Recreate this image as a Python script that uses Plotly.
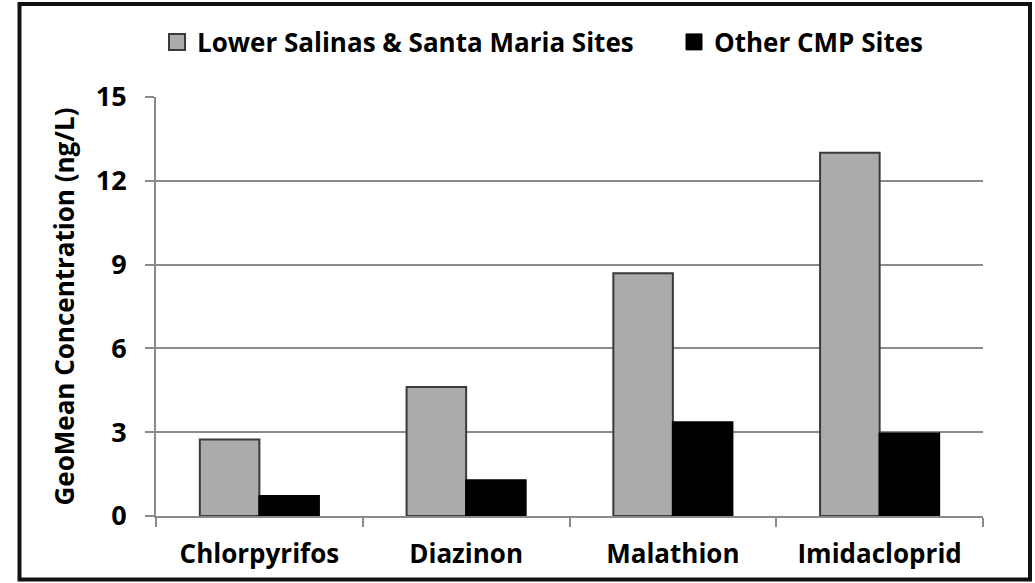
import plotly.graph_objects as go

categories = ["Chlorpyrifos", "Diazinon", "Malathion", "Imidacloprid"]
lower_salinas_santa_maria = [2.74, 4.62, 8.69, 13.0]
other_cmp_sites = [0.72, 1.28, 3.36, 2.95]
series_names = ["Lower Salinas & Santa Maria Sites", "Other CMP Sites"]
y_ticks = [0, 3, 6, 9, 12, 15]

FONT = "Open Sans"
W, H = 1035, 583
ML, MR, MT, MB = 156, 52, 97, 67
PW, PH = W - ML - MR, H - MT - MB

GRAY_FILL, GRAY_EDGE = "#ababab", "#3a3a3a"
BLACK = "#000000"

fig = go.Figure()
fig.add_trace(go.Bar(
    x=categories, y=lower_salinas_santa_maria, name=series_names[0], showlegend=False,
    marker=dict(color=GRAY_FILL, line=dict(color=GRAY_EDGE, width=2)),
))
fig.add_trace(go.Bar(
    x=categories, y=other_cmp_sites, name=series_names[1], showlegend=False,
    marker=dict(color=BLACK, line=dict(color=BLACK, width=2)),
))
# legend entries with larger square swatches
fig.add_trace(go.Scatter(
    x=[None], y=[None], mode="markers", name=series_names[0], legend="legend",
    marker=dict(symbol="square", size=19, color=GRAY_FILL, line=dict(color=GRAY_EDGE, width=2)),
))
fig.add_trace(go.Scatter(
    x=[None], y=[None], mode="markers", name=series_names[1], legend="legend2",
    marker=dict(symbol="square", size=19, color=BLACK, line=dict(color=BLACK, width=1)),
))

def px_x(x):
    return (x - ML) / PW

def px_y(y):
    return (H - MB - y) / PH

fig.add_shape(type="rect", xref="paper", yref="paper",
              x0=px_x(19.5), x1=px_x(1030), y0=px_y(579.5), y1=px_y(4),
              line=dict(color="#111111", width=4), fillcolor="rgba(0,0,0,0)", layer="above")

legend_common = dict(orientation="h", xanchor="left", yanchor="middle", y=px_y(42),
                     bgcolor="rgba(0,0,0,0)",
                     font=dict(family=FONT, size=26, color="#000000", weight="bold"),
                     itemsizing="trace")

fig.update_layout(
    width=W, height=H,
    margin=dict(l=ML, r=MR, t=MT, b=MB, autoexpand=False),
    paper_bgcolor="white", plot_bgcolor="white",
    barmode="group", bargap=0.424, bargroupgap=0,
    font=dict(family=FONT, color="#000000"),
    legend=dict(x=px_x(157), **legend_common),
    legend2=dict(x=px_x(674), **legend_common),
    xaxis=dict(
        type="category", tickson="boundaries", ticks="outside", ticklen=9, tickwidth=2,
        tickcolor="#8a8a8a", showline=True, linecolor="#8a8a8a", linewidth=2,
        showgrid=False, ticklabelstandoff=14,
        tickfont=dict(family=FONT, size=26, color="#000000", weight="bold"),
    ),
    yaxis=dict(
        range=[0, 15], tickvals=y_ticks, ticks="outside", ticklen=9, tickwidth=2,
        tickcolor="#8a8a8a", showline=True, linecolor="#8a8a8a", linewidth=2,
        showgrid=True, gridcolor="#8a8a8a", gridwidth=2, zeroline=False,
        ticklabelstandoff=13,
        tickfont=dict(family=FONT, size=27, color="#000000", weight="bold"),
        title=dict(text="GeoMean Concentration (ng/L)", standoff=14,
                   font=dict(family=FONT, size=26, color="#000000", weight="bold")),
    ),
)

fig.write_html("out.html", config={"displayModeBar": False},
               post_script="document.body.style.margin='0';")
